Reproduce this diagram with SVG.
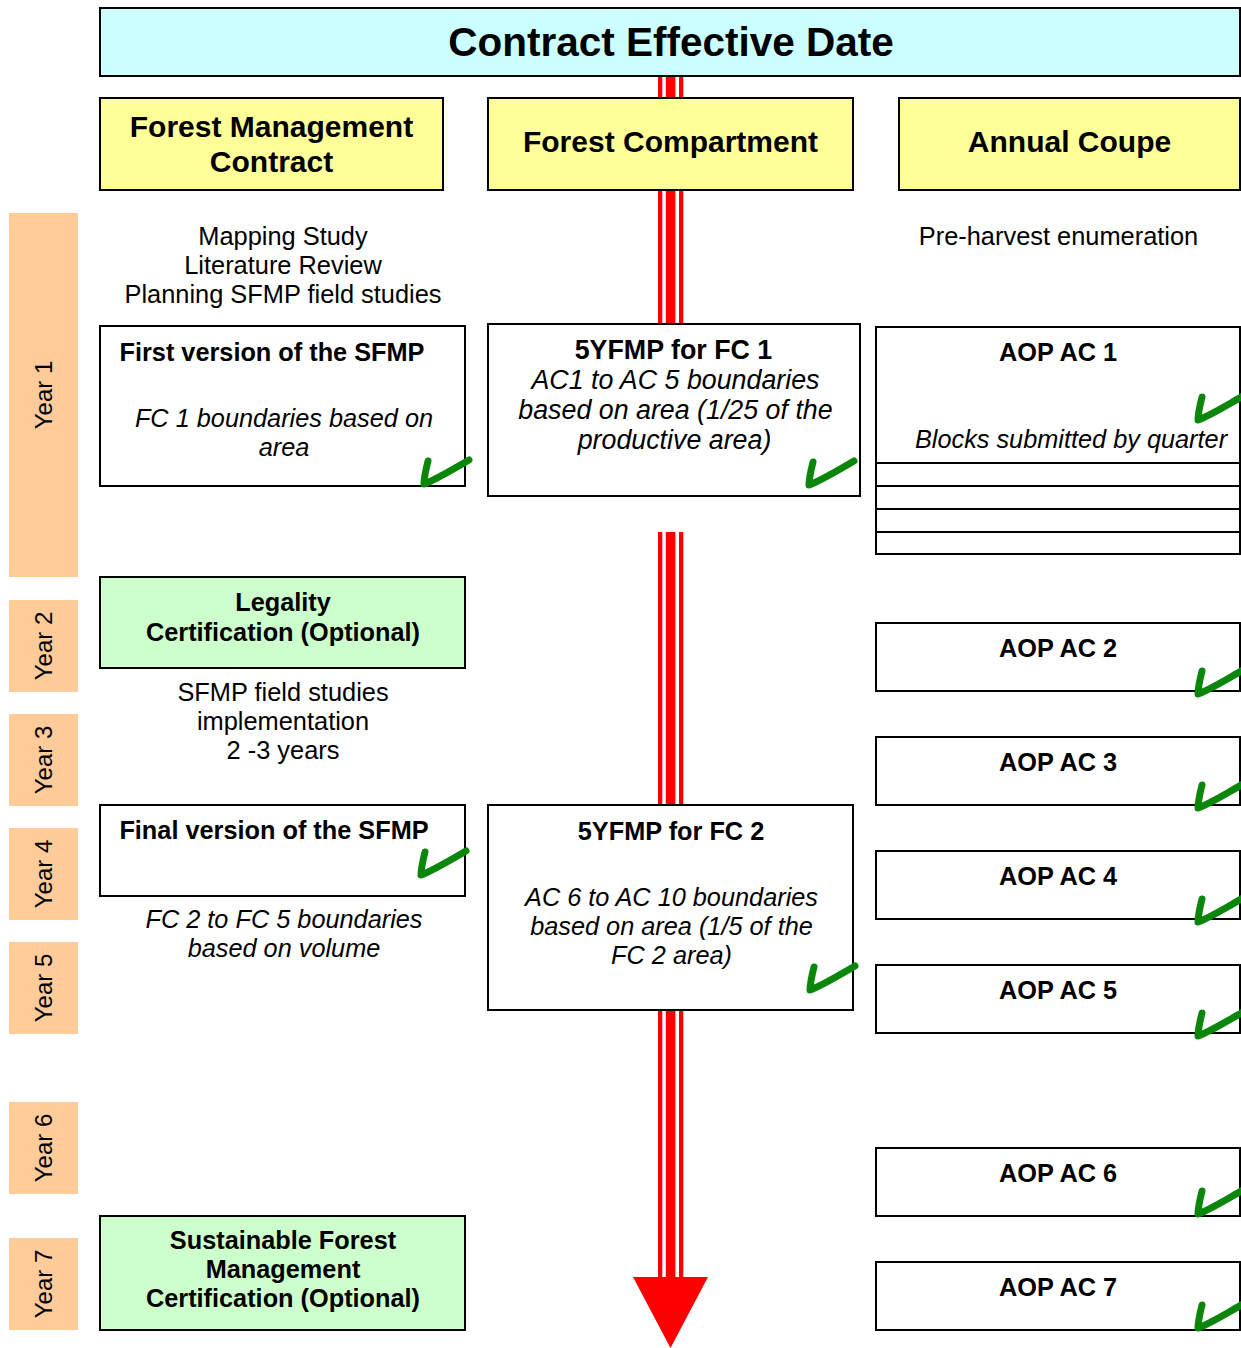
<svg xmlns="http://www.w3.org/2000/svg" xmlns:xlink="http://www.w3.org/1999/xlink" width="1241" height="1348" viewBox="0 0 1241 1348">
<style>
text{font-family:"Liberation Sans",Arial,sans-serif;fill:#000}
.t{font-size:25.4px;text-anchor:middle}
.b{font-size:25.3px;font-weight:bold;text-anchor:middle}
.i{font-size:25.3px;font-style:italic;text-anchor:middle}
.big{font-size:26.8px}
.h{font-size:30px;font-weight:bold;text-anchor:middle}
.y{font-size:24px;text-anchor:middle;dominant-baseline:central}
.box{fill:#fff;stroke:#000;stroke-width:2}
.yel{fill:#FFFF99;stroke:#000;stroke-width:2}
.grn{fill:#CCFFCC;stroke:#000;stroke-width:2}
.yr{fill:#FFCC99}
.red{fill:#FF0000}
.chk{fill:none;stroke:#0A870A;stroke-width:7;stroke-linecap:round;stroke-linejoin:round}
</style>
<defs>
<path id="chk" class="chk" d="M7,4 C5,12 3,20 3,27 C16,22 32,12 48,3"/>
</defs>
<rect width="1241" height="1348" fill="#fff"/>

<g id="connectors">
<rect class="red" x="658" y="76" width="4.3" height="248"/>
<rect class="red" x="665.8" y="76" width="9.6" height="248"/>
<rect class="red" x="679" y="76" width="4.3" height="248"/>
<rect class="red" x="658" y="532" width="4.3" height="746"/>
<rect class="red" x="665.8" y="532" width="9.6" height="746"/>
<rect class="red" x="679" y="532" width="4.3" height="746"/>
<polygon class="red" points="633,1277 708,1277 670.5,1348"/>
</g>

<g id="header">
<rect x="100" y="8" width="1140" height="68" fill="#CCFFFF" stroke="#000" stroke-width="2"/>
<text x="671" y="56" font-size="40.5" font-weight="bold" text-anchor="middle">Contract Effective Date</text>
</g>

<g id="col-fmc">
<rect class="yel" x="100" y="98" width="343" height="92"/>
<text class="h" x="271.5" y="137">Forest Management</text>
<text class="h" x="271.5" y="172">Contract</text>
</g>
<g id="col-fc">
<rect class="yel" x="488" y="98" width="365" height="92"/>
<text class="h" x="670.5" y="152">Forest Compartment</text>
</g>
<g id="col-ac">
<rect class="yel" x="899" y="98" width="341" height="92"/>
<text class="h" x="1069.5" y="152">Annual Coupe</text>
</g>

<g id="years">
<g id="year1"><rect class="yr" x="9" y="213" width="69" height="364"/><text class="y" transform="translate(43,395) rotate(-90)">Year 1</text></g>
<g id="year2"><rect class="yr" x="9" y="600" width="69" height="92"/><text class="y" transform="translate(43,646) rotate(-90)">Year 2</text></g>
<g id="year3"><rect class="yr" x="9" y="714" width="69" height="92"/><text class="y" transform="translate(43,760) rotate(-90)">Year 3</text></g>
<g id="year4"><rect class="yr" x="9" y="828" width="69" height="92"/><text class="y" transform="translate(43,874) rotate(-90)">Year 4</text></g>
<g id="year5"><rect class="yr" x="9" y="942" width="69" height="92"/><text class="y" transform="translate(43,988) rotate(-90)">Year 5</text></g>
<g id="year6"><rect class="yr" x="9" y="1102" width="69" height="92"/><text class="y" transform="translate(43,1148) rotate(-90)">Year 6</text></g>
<g id="year7"><rect class="yr" x="9" y="1238" width="69" height="92"/><text class="y" transform="translate(43,1284) rotate(-90)">Year 7</text></g>
</g>

<g id="studies">
<text class="t" x="283" y="245">Mapping Study</text>
<text class="t" x="283" y="274">Literature Review</text>
<text class="t" x="283" y="303">Planning SFMP field studies</text>
</g>

<g id="first-sfmp">
<rect class="box" x="100" y="326" width="365" height="160"/>
<text class="b" x="272" y="361">First version of the SFMP</text>
<text class="i" x="284" y="427">FC 1 boundaries based on</text>
<text class="i" x="284" y="456">area</text>
<use xlink:href="#chk" x="421" y="457"/>
</g>

<g id="legality">
<rect class="grn" x="100" y="577" width="365" height="91"/>
<text class="b" x="283" y="611">Legality</text>
<text class="b" x="283" y="641">Certification (Optional)</text>
</g>

<g id="field-impl">
<text class="t" x="283" y="701">SFMP field studies</text>
<text class="t" x="283" y="730">implementation</text>
<text class="t" x="283" y="759">2 -3 years</text>
</g>

<g id="final-sfmp">
<rect class="box" x="100" y="805" width="365" height="91"/>
<text class="b" x="274" y="839">Final version of the SFMP</text>
<use xlink:href="#chk" x="418" y="848"/>
</g>

<g id="fc2-5">
<text class="i" x="284" y="928">FC 2 to FC 5 boundaries</text>
<text class="i" x="284" y="957">based on volume</text>
</g>

<g id="sfm-cert">
<rect class="grn" x="100" y="1216" width="365" height="114"/>
<text class="b" x="283" y="1249">Sustainable Forest</text>
<text class="b" x="283" y="1278">Management</text>
<text class="b" x="283" y="1307">Certification (Optional)</text>
</g>

<g id="fc1-plan">
<rect class="box" x="488" y="324" width="372" height="172"/>
<text class="b big" x="673.5" y="359">5YFMP for FC 1</text>
<text class="i big" x="675.5" y="389">AC1 to AC 5 boundaries</text>
<text class="i big" x="675.5" y="419">based on area (1/25 of the</text>
<text class="i big" x="674.5" y="449">productive area)</text>
<use xlink:href="#chk" x="806" y="458"/>
</g>

<g id="fc2-plan">
<rect class="box" x="488" y="805" width="365" height="205"/>
<text class="b" x="671" y="840">5YFMP for FC 2</text>
<text class="i" x="671.5" y="906">AC 6 to AC 10 boundaries</text>
<text class="i" x="671.5" y="935">based on area (1/5 of the</text>
<text class="i" x="671.5" y="964">FC 2 area)</text>
<use xlink:href="#chk" x="807" y="963"/>
</g>

<g id="preharvest">
<text class="t" x="1058.5" y="245">Pre-harvest enumeration</text>
</g>

<g id="aop1">
<rect class="box" x="876" y="327" width="364" height="227"/>
<line x1="876" y1="463" x2="1240" y2="463" stroke="#000" stroke-width="2"/>
<line x1="876" y1="486" x2="1240" y2="486" stroke="#000" stroke-width="2"/>
<line x1="876" y1="509" x2="1240" y2="509" stroke="#000" stroke-width="2"/>
<line x1="876" y1="532" x2="1240" y2="532" stroke="#000" stroke-width="2"/>
<text class="b" x="1058" y="361">AOP AC 1</text>
<text class="i" x="1071" y="448">Blocks submitted by quarter</text>
<use xlink:href="#chk" x="1195" y="393"/>
</g>
<g id="aop2">
<rect class="box" x="876" y="623" width="364" height="68"/>
<text class="b" x="1058" y="657">AOP AC 2</text>
<use xlink:href="#chk" x="1195" y="667"/>
</g>
<g id="aop3">
<rect class="box" x="876" y="737" width="364" height="68"/>
<text class="b" x="1058" y="771">AOP AC 3</text>
<use xlink:href="#chk" x="1195" y="781"/>
</g>
<g id="aop4">
<rect class="box" x="876" y="851" width="364" height="68"/>
<text class="b" x="1058" y="885">AOP AC 4</text>
<use xlink:href="#chk" x="1195" y="895"/>
</g>
<g id="aop5">
<rect class="box" x="876" y="965" width="364" height="68"/>
<text class="b" x="1058" y="999">AOP AC 5</text>
<use xlink:href="#chk" x="1195" y="1009"/>
</g>
<g id="aop6">
<rect class="box" x="876" y="1148" width="364" height="68"/>
<text class="b" x="1058" y="1182">AOP AC 6</text>
<use xlink:href="#chk" x="1195" y="1187"/>
</g>
<g id="aop7">
<rect class="box" x="876" y="1262" width="364" height="68"/>
<text class="b" x="1058" y="1296">AOP AC 7</text>
<use xlink:href="#chk" x="1195" y="1301"/>
</g>
</svg>
